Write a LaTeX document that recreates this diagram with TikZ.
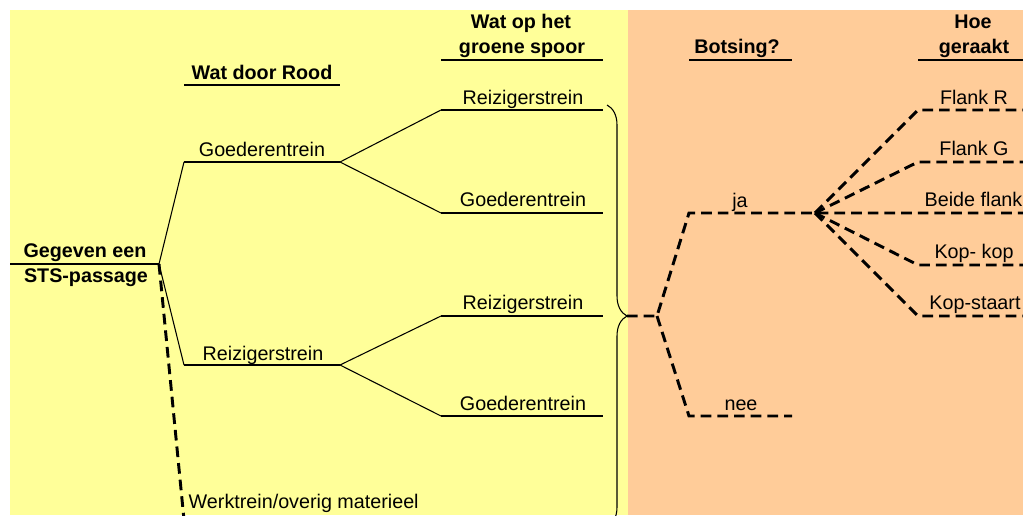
\documentclass[tikz,border=0pt]{standalone}
\usepackage{fontspec}
\setmainfont{Liberation Sans}
\usepackage{tikz}
\usetikzlibrary{decorations.pathreplacing}

\definecolor{geelvlak}{HTML}{FFFF99}
\definecolor{oranjevlak}{HTML}{FFCC99}

\newcommand{\lettermaat}{\fontsize{14.8pt}{18pt}\selectfont}

\tikzset{
  tak/.style={line width=0.8pt},
  lijn/.style={line width=1.5pt},
  stip/.style={line width=2.2pt, dash pattern=on 8pt off 4.5pt},
  kopje/.style={anchor=base, font=\lettermaat\bfseries},
  tekst/.style={anchor=base, font=\lettermaat},
}

\begin{document}
\begin{tikzpicture}[x=0.75pt, y=-0.75pt]
\useasboundingbox (0,0) rectangle (1023,515);
\fill[white] (0,0) rectangle (1023,515);
\clip (0,0) rectangle (1023,515);

% Achtergrondvlakken
\fill[geelvlak] (10,10) rectangle (628,515);
\fill[oranjevlak] (628,10) rectangle (1023,515);

% Punten van de boom
\coordinate (w0) at (10,264);
\coordinate (w1) at (159,264);
\coordinate (g0) at (184,162);
\coordinate (g1) at (340,162);
\coordinate (r0) at (184,365);
\coordinate (r1) at (340,365);
\coordinate (wt) at (185,530);
\coordinate (gr0) at (441,110);
\coordinate (gr1) at (603,110);
\coordinate (gg0) at (441,213);
\coordinate (gg1) at (603,213);
\coordinate (rr0) at (441,316);
\coordinate (rr1) at (603,316);
\coordinate (rg0) at (441,416);
\coordinate (rg1) at (603,416);
\coordinate (bo) at (607,105);
\coordinate (bu) at (607,527);
\coordinate (tip) at (627,316);
\coordinate (b0) at (657,316);
\coordinate (ja0) at (689,213);
\coordinate (nee0) at (689,416);
\coordinate (nee1) at (792,416);
\coordinate (fan) at (815,213);
\coordinate (fr0) at (918,110);
\coordinate (fr1) at (1030,110);
\coordinate (fg0) at (918,162);
\coordinate (fg1) at (1030,162);
\coordinate (fb1) at (1030,213);
\coordinate (kk0) at (918,265);
\coordinate (kk1) at (1030,265);
\coordinate (ks0) at (918,316);
\coordinate (ks1) at (1030,316);

% Kolomkoppen
\node[kopje] (kRood) at (262,79) {Wat door Rood};
\node[kopje] (kGroen1) at (521,28) {Wat op het};
\node[kopje] (kGroen2) at (522,53) {groene spoor};
\node[kopje] (kBots) at (737,53) {Botsing?};
\node[kopje] (kHoe1) at (973,28) {Hoe};
\node[kopje] (kHoe2) at (974,53) {geraakt};
\draw[lijn] (184,85) -- (340,85);
\draw[lijn] (441,60) -- (603,60);
\draw[lijn] (689,60) -- (792,60);
\draw[lijn] (918,60) -- (1030,60);

% Wortel
\node[kopje] (wortel1) at (85,257) {Gegeven een};
\node[kopje] (wortel2) at (86,282) {STS-passage};
\draw[lijn] (w0) -- (w1);

% Wat door Rood
\draw[tak] (w1) -- (g0);
\draw[lijn] (g0) -- (g1);
\draw[tak] (w1) -- (r0);
\draw[lijn] (r0) -- (r1);
\draw[stip] (w1) -- (wt);
\node[tekst] (lG) at (262,156) {Goederentrein};
\node[tekst] (lR) at (263,360) {Reizigerstrein};
\node[tekst, anchor=base west] (lW) at (184,508) {Werktrein/overig materieel};

% Wat op het groene spoor
\draw[tak] (g1) -- (gr0);
\draw[lijn] (gr0) -- (gr1);
\draw[tak] (g1) -- (gg0);
\draw[lijn] (gg0) -- (gg1);
\draw[tak] (r1) -- (rr0);
\draw[lijn] (rr0) -- (rr1);
\draw[tak] (r1) -- (rg0);
\draw[lijn] (rg0) -- (rg1);
\node[tekst] (lGR) at (523,104) {Reizigerstrein};
\node[tekst] (lGG) at (523,206) {Goederentrein};
\node[tekst] (lRR) at (523,309) {Reizigerstrein};
\node[tekst] (lRG) at (523,410) {Goederentrein};

% Accolade
\draw[tak, decorate, decoration={brace, amplitude=15pt}] (bo) -- (bu);

% Botsing?
\draw[stip] (tip) -- (b0) -- (ja0) -- (fan) -- (fb1);
\draw[stip] (b0) -- (nee0) -- (nee1);
\node[tekst] (lJa) at (740,207) {ja};
\node[tekst] (lNee) at (741,410) {nee};

% Hoe geraakt
\draw[stip] (fan) -- (fr0) -- (fr1);
\draw[stip] (fan) -- (fg0) -- (fg1);
\draw[stip] (fan) -- (kk0) -- (kk1);
\draw[stip] (fan) -- (ks0) -- (ks1);
\node[tekst] (lFR) at (974,104) {Flank R};
\node[tekst] (lFG) at (974,155) {Flank G};
\node[tekst, anchor=base west] (lBF) at (920,206) {Beide flank};
\node[tekst] (lKK) at (974,258) {Kop- kop};
\node[tekst] (lKS) at (975,309) {Kop-staart};
\end{tikzpicture}
\end{document}
